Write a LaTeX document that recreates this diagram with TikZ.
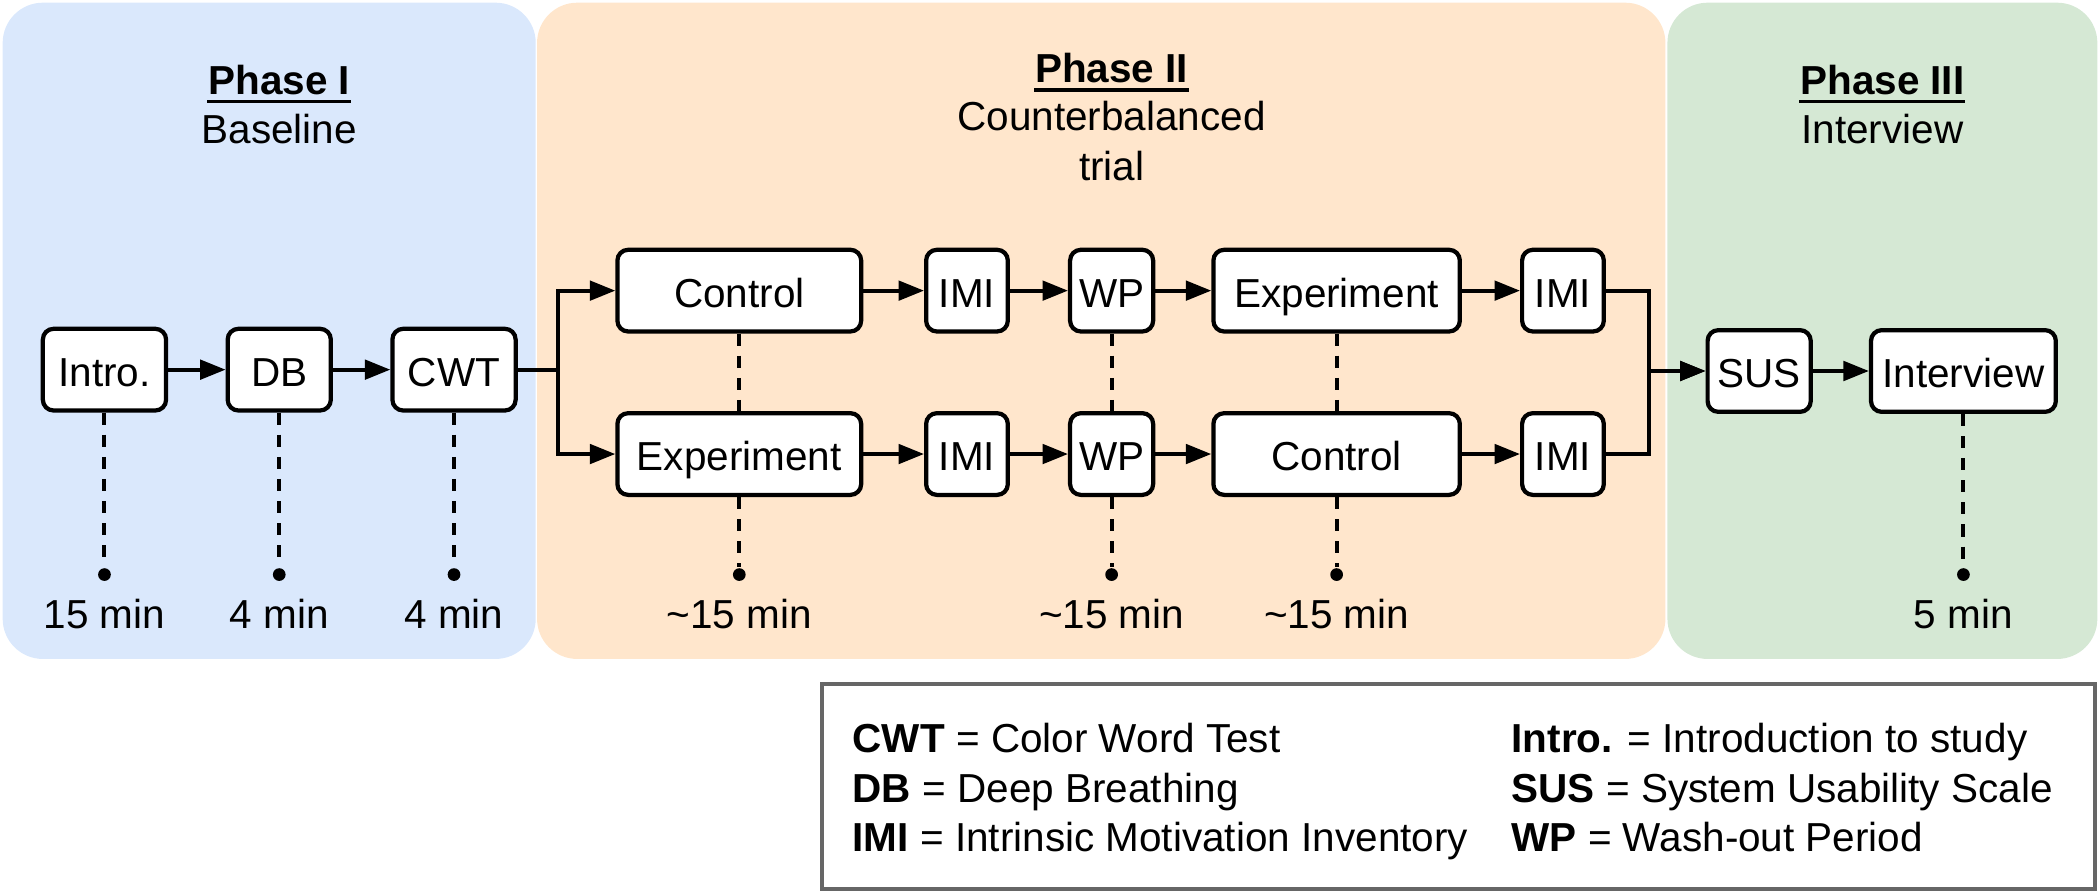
\documentclass[tikz,border=0pt]{standalone}
\usepackage{fontspec}
\setmainfont{Liberation Sans}
\usetikzlibrary{arrows.meta}

\definecolor{phaseblue}{HTML}{DAE8FC}
\definecolor{phaseorange}{HTML}{FFE6CC}
\definecolor{phasegreen}{HTML}{D5E8D4}
\definecolor{legendgray}{HTML}{666666}

\tikzset{
  stage/.style={draw, fill=white, line width=0.9pt, rounded corners=0.08cm,
    minimum height=0.61cm, inner sep=0pt, text height=0.716em, text depth=0pt},
  flow/.style={line width=0.8pt, -{Triangle[length=0.19cm,width=0.145cm]}},
  timeline/.style={line width=0.85pt, dash pattern=on 0.09cm off 0.075cm},
  tick/.style={circle, fill=black, inner sep=0pt, minimum size=0.095cm},
  note/.style={inner sep=0pt},
  rule/.style={line width=0.8pt},
}

\begin{document}
\begin{tikzpicture}[font=\fontsize{8.6}{10.5}\selectfont]
\useasboundingbox (0,0) rectangle (15.68,-6.69);

% phases
\fill[phaseblue, rounded corners=0.3cm] (0.02,-0.02) rectangle (4.00,-4.92);
\fill[phaseorange, rounded corners=0.3cm] (4.01,-0.02) rectangle (12.435,-4.92);
\fill[phasegreen, rounded corners=0.3cm] (12.45,-0.02) rectangle (15.66,-4.92);

\node[note, anchor=base] (p1) at (2.085,-0.705) {\textbf{Phase I}};
\node[note, anchor=base] (p1-sub) at (2.085,-1.07) {Baseline};
\node[note, anchor=base] (p2) at (8.30,-0.617) {\textbf{Phase II}};
\node[note, anchor=base] (p2-sub) at (8.30,-0.976) {Counterbalanced};
\node[note, anchor=base] (p2-sub2) at (8.30,-1.345) {trial};
\node[note, anchor=base] (p3) at (14.055,-0.705) {\textbf{Phase III}};
\node[note, anchor=base] (p3-sub) at (14.055,-1.07) {Interview};
\foreach \p in {p1,p2,p3}
  \draw[rule] ([yshift=-1.5pt]\p.base west) -- ([yshift=-1.5pt]\p.base east);

% steps
\node[stage, minimum width=0.92cm] (intro) at (0.78,-2.76) {Intro.};
\node[stage, minimum width=0.77cm] (db) at (2.085,-2.76) {DB};
\node[stage, minimum width=0.92cm] (cwt) at (3.39,-2.76) {CWT};
\node[stage, minimum width=1.82cm] (ctrlA) at (5.52,-2.17) {Control};
\node[stage, minimum width=1.82cm] (expA) at (5.52,-3.39) {Experiment};
\node[stage, minimum width=0.61cm] (imiA) at (7.22,-2.17) {IMI};
\node[stage, minimum width=0.61cm] (imiB) at (7.22,-3.39) {IMI};
\node[stage, minimum width=0.62cm] (wpA) at (8.30,-2.17) {WP};
\node[stage, minimum width=0.62cm] (wpB) at (8.30,-3.39) {WP};
\node[stage, minimum width=1.84cm] (expC) at (9.98,-2.17) {Experiment};
\node[stage, minimum width=1.84cm] (ctrlC) at (9.98,-3.39) {Control};
\node[stage, minimum width=0.61cm] (imiC) at (11.67,-2.17) {IMI};
\node[stage, minimum width=0.61cm] (imiD) at (11.67,-3.39) {IMI};
\node[stage, minimum width=0.77cm] (sus) at (13.135,-2.77) {SUS};
\node[stage, minimum width=1.38cm] (intv) at (14.66,-2.77) {Interview};

% arrows
\draw[flow] (intro) -- (db);
\draw[flow] (db) -- (cwt);
\draw[flow] (cwt.east) -- ++(0.30,0) |- (ctrlA.west);
\draw[flow] (cwt.east) -- ++(0.30,0) |- (expA.west);
\foreach \a/\b in {ctrlA/imiA, imiA/wpA, wpA/expC, expC/imiC,
                   expA/imiB, imiB/wpB, wpB/ctrlC, ctrlC/imiD, sus/intv}
  \draw[flow] (\a) -- (\b);
\draw[flow] (imiC.east) -- ++(0.32,0) |- (sus.west);
\draw[flow] (imiD.east) -- ++(0.32,0) |- (sus.west);

% durations
\draw[timeline] (ctrlA) -- (expA);
\draw[timeline] (wpA) -- (wpB);
\draw[timeline] (expC) -- (ctrlC);
\foreach \n/\t in {intro/15 min, db/4 min, cwt/4 min, expA/\textasciitilde15 min,
                   wpB/\textasciitilde15 min, ctrlC/\textasciitilde15 min, intv/5 min}
{
  \node[tick] (\n-dot) at (\n |- 0,-4.29) {};
  \draw[timeline] (\n) -- (\n-dot);
  \node[note, anchor=base] (\n-time) at (\n |- 0,-4.69) {\t};
}

% legend
\node[draw=legendgray, line width=0.85pt, minimum width=9.5cm, minimum height=1.53cm,
  inner sep=0pt] (legend) at (10.89,-5.875) {};
\node[note, anchor=base west] (key1) at (6.36,-5.616) {\textbf{CWT} = Color Word Test};
\node[note, anchor=base west] (key2) at (6.36,-5.99) {\textbf{DB} = Deep Breathing};
\node[note, anchor=base west] (key3) at (6.36,-6.355) {\textbf{IMI} = Intrinsic Motivation Inventory};
\node[note, anchor=base west] (key4) at (11.28,-5.616) {\textbf{Intro.} = Introduction to study};
\node[note, anchor=base west] (key5) at (11.28,-5.99) {\textbf{SUS} = System Usability Scale};
\node[note, anchor=base west] (key6) at (11.28,-6.355) {\textbf{WP} = Wash-out Period};

\end{tikzpicture}
\end{document}
